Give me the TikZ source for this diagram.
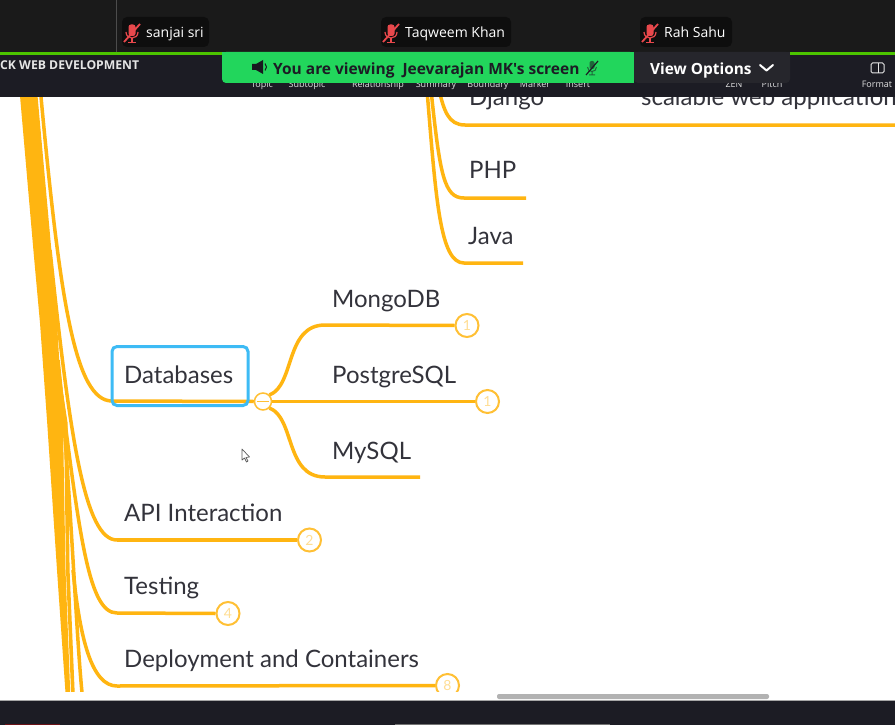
\documentclass[tikz,border=0pt]{standalone}
\usepackage{fontspec}
\setmainfont{Lato}
\newfontfamily\uifont{Open Sans}
\definecolor{branch}{HTML}{FFB511}
\definecolor{inktext}{HTML}{33333B}
\definecolor{topbar}{HTML}{1A1A1A}
\definecolor{headbar}{HTML}{1C1C24}
\definecolor{bannergreen}{HTML}{22D65C}
\definecolor{optbar}{HTML}{26262C}
\definecolor{linegreen}{HTML}{4CC400}
\definecolor{tagbg}{HTML}{0E0E0E}
\definecolor{mutered}{HTML}{E8484C}
\definecolor{selblue}{HTML}{3DBBF5}
\tikzset{
  x=1pt,y=-1pt,
  topiclabel/.style={anchor=base west,inner sep=0pt,text=inktext,font=\fontsize{24}{28}\selectfont},
  edge/.style={draw=branch,line width=3.5pt},
  badge/.style={circle,draw=branch!85!white,line width=2pt,fill=white,minimum size=23pt,inner sep=0pt,text=branch!45!white,font=\fontsize{14}{16}\selectfont},
  nametag/.style={rounded corners=5pt,fill=tagbg,inner sep=0pt,minimum height=30pt},
  nametext/.style={anchor=base west,inner sep=0pt,text=white,font=\uifont\fontsize{14}{16}\selectfont},
  toollabel/.style={anchor=base,inner sep=0pt,text=white!88!black,font=\uifont\fontsize{9}{10}\selectfont},
}
\newcommand{\mutedmic}[2]{%
  \begin{scope}[shift={(#1,#2)}]
    \fill[mutered,rounded corners=2.5pt] (-3.5,-8.5) rectangle (3.5,3);
    \draw[mutered,line width=1.2pt] (-6,-1) .. controls (-6,7) and (6,7) .. (6,-1);
    \draw[mutered,line width=1.4pt] (0,5) -- (0,9) (-4,9.5) -- (4,9.5);
    \draw[mutered,line width=1.8pt] (-8,9) -- (8,-9);
  \end{scope}}
\begin{document}
\begin{tikzpicture}
\useasboundingbox (0,0) rectangle (895,725);
\fill[white] (0,0) rectangle (895,725);

% canvas lines, clipped to the white canvas
\begin{scope}
\clip (0,97) rectangle (895,691);
\fill[branch] (19.5,90) -- (37,90) -- (52,257) -- (57,323) -- (63,423) -- (65.5,570) -- (70.5,700) -- (66,700) -- (57,570) -- (47,420) -- (40,323) -- (34,257) -- cycle;
\coordinate (topDb) at (41,97);
\coordinate (topApi) at (50,250);
\coordinate (topTest) at (56,350);
\coordinate (topDep) at (73,570);
\coordinate (topB) at (61.5,395);
\coordinate (midB) at (65.8,423);
\coordinate (lowB) at (67.8,570);
\coordinate (endB) at (73.2,700);
\coordinate (topC) at (58,360);
\coordinate (endC) at (82.8,700);
\coordinate (topDj) at (439,90);
\coordinate (topPhp) at (431,90);
\coordinate (topJava) at (427,90);
\coordinate (dbStart) at (112,401);
\coordinate (apiStart) at (117,540);
\coordinate (testStart) at (117,613);
\coordinate (depStart) at (117,686);
\coordinate (djStart) at (465,125);
\coordinate (phpStart) at (464,198);
\coordinate (javaStart) at (464,263);
\coordinate (djEnd) at (895,125);
\coordinate (phpEnd) at (526,198);
\coordinate (javaEnd) at (523,263);
\coordinate (mysqlEnd) at (420,477);
\draw[edge] (topDb) ++(0,-7) -- (topDb) .. controls (60,300) and (75,401) .. (dbStart);
\draw[edge] (topApi) .. controls (70,440) and (85,540) .. (apiStart);
\draw[edge] (topTest) .. controls (79,535) and (88,613) .. (testStart);
\draw[edge,line width=3.6pt] (topB) -- (midB) -- (lowB) -- (endB);
\draw[edge] (topC) .. controls (70,470) and (76,640) .. (endC);
\draw[edge] (topDep) .. controls (80,640) and (92,686) .. (depStart);
\draw[edge] (topDj) .. controls (444,110) and (448,125) .. (djStart) -- (djEnd);
\draw[edge] (topPhp) .. controls (440,175) and (444,198) .. (phpStart) -- (phpEnd);
\draw[edge] (topJava) .. controls (436,200) and (440,263) .. (javaStart) -- (javaEnd);
\end{scope}

% Databases branch
\coordinate (mongoStart) at (325,325);
\coordinate (mysqlStart) at (325,477);
\node[badge] (bMongo) at (467,325.5) {1};
\node[badge] (bPostgres) at (487.5,401.5) {1};
\node[circle,draw=branch!85!white,line width=1.5pt,fill=white,minimum size=17pt,inner sep=0pt] (collapse) at (263,401.5) {};
\draw[branch!85!white,line width=1.2pt] (collapse.center) ++(-6,0) -- ++(12,0);
\draw[edge] (dbStart) -- (collapse.west);
\draw[edge] (collapse.east) -- (bPostgres.west);
\draw[edge] (collapse.north east) .. controls (295,385) and (285,325) .. (mongoStart) -- (bMongo.west);
\draw[edge] (collapse.south east) .. controls (295,418) and (285,477) .. (mysqlStart) -- (mysqlEnd);
\node[draw=selblue,line width=3pt,rounded corners=5pt,minimum width=136pt,minimum height=59pt,inner sep=0pt] (dbBox) at (180,376) {};

\node[topiclabel] (db) at (124,383) {Databases};
\node[topiclabel] (mongo) at (332,307) {MongoDB};
\node[topiclabel] (postgres) at (332,383) {PostgreSQL};
\node[topiclabel] (mysql) at (332,459) {MySQL};
\node[topiclabel] (php) at (469,178) {PHP};
\node[topiclabel] (java) at (468,244) {Java};
\node[topiclabel] (django) at (469,106) {Django};
\node[topiclabel] (scalable) at (641,106) {scalable web application};
\node[topiclabel] (api) at (124,521) {API Interaction};
\node[topiclabel] (testing) at (124,594) {Testing};
\node[topiclabel] (deploy) at (124,667) {Deployment and Containers};

% lower badges
\node[badge] (bApi) at (309.5,540) {2};
\node[badge] (bTest) at (228,613.5) {4};
\draw[edge] (apiStart) -- (bApi.west);
\draw[edge] (testStart) -- (bTest.west);
\begin{scope}
\clip (0,600) rectangle (895,691);
\node[badge] (bDep) at (447.5,685.5) {8};
\draw[edge] (depStart) -- (bDep.west);
\end{scope}

% mouse pointer
\draw[black!65,fill=white,line width=.7pt,line join=round] (242,449) -- (242,460) -- (244.5,458) -- (246.5,462) -- (248,461) -- (246,457.5) -- (249.5,457) -- cycle;

% scrollbar
\fill[black!30,rounded corners=2pt] (497,694) rectangle (769,699);

% top bars
\fill[headbar] (0,52) rectangle (895,97);
\fill[topbar] (0,0) rectangle (895,52);
\draw[black!70,line width=.6pt] (116.5,0) -- (116.5,52);
\fill[linegreen] (0,52) rectangle (895,55);

\node[anchor=base west,inner sep=0pt,text=white!90!black,font=\uifont\bfseries\fontsize{12.2}{14}\selectfont] (course) at (0,70) {CK WEB DEVELOPMENT};

\node[toollabel] (t1) at (262,88) {Topic};
\node[toollabel] (t2) at (307,88) {Subtopic};
\node[toollabel] (t3) at (378,88) {Relationship};
\node[toollabel] (t4) at (436,88) {Summary};
\node[toollabel] (t5) at (488,88) {Boundary};
\node[toollabel] (t6) at (535,88) {Marker};
\node[toollabel] (t7) at (578,88) {Insert};
\node[toollabel] (t8) at (734,88) {ZEN};
\node[toollabel] (t9) at (772,88) {Pitch};
\node[toollabel] (t10) at (877,88) {Format};
\draw[white!90!black,line width=1pt,rounded corners=1.5pt] (871,63) rectangle (884,73);
\draw[white!90!black,line width=1pt] (878.5,63) -- (878.5,73);

% banner
\fill[bannergreen,rounded corners=4pt] (222,52) -- (222,83) -- (634,83) -- (634,52) -- cycle;
\fill[bannergreen] (222,52) rectangle (234,70);
\fill[optbar,rounded corners=4pt] (634,52) -- (634,83) -- (790,83) -- (790,52) -- cycle;
\fill[optbar] (634,52) rectangle (790,70);
\fill[bannergreen] (630,52) rectangle (634,83);

\fill[headbar!85!black] (252,64) -- (256,64) -- (263,60) -- (263,74) -- (256,70) -- (252,70) -- cycle;
\draw[headbar!85!black,line width=1pt] (265,63.5) .. controls (267,66) and (267,68) .. (265,70.5);
\node[anchor=base west,inner sep=0pt,text=headbar,font=\uifont\bfseries\fontsize{15.5}{18}\selectfont] (viewing) at (273,74.5) {You are viewing\ \ Jeevarajan MK's screen};
\begin{scope}[shift={(592,68)}]
  \fill[headbar!60!bannergreen,rounded corners=2pt] (-2.5,-7) rectangle (2.5,1);
  \draw[headbar!60!bannergreen,line width=1pt] (-4.5,-1) .. controls (-4.5,5) and (4.5,5) .. (4.5,-1) (0,4) -- (0,7) (-3,7) -- (3,7);
  \draw[headbar,line width=1.2pt] (-6,7) -- (6,-7);
\end{scope}
\node[anchor=base west,inner sep=0pt,text=white,font=\uifont\bfseries\fontsize{15.4}{18}\selectfont] (options) at (650,74.5) {View Options};
\draw[white,line width=2pt,line cap=round,line join=round] (760,65) -- (766.5,70.5) -- (773,65);

% name tags
\node[nametag,minimum width=87pt] (tag1) at (165.5,32) {};
\mutedmic{132}{33}
\node[nametext] (name1) at (146,37.5) {sanjai sri};
\node[nametag,minimum width=130pt] (tag2) at (446,32) {};
\mutedmic{391}{33}
\node[nametext] (name2) at (405,37.5) {Taqweem Khan};
\node[nametag,minimum width=92pt] (tag3) at (686,32) {};
\mutedmic{650}{33}
\node[nametext] (name3) at (664,37.5) {Rah Sahu};

% bottom bar
\fill[headbar] (0,701) rectangle (895,725);
\draw[black!35,line width=.7pt] (0,700.5) -- (895,700.5);
\fill[red!35!headbar] (5,724) rectangle (60,725);
\fill[black!55] (395,724) rectangle (610,725);
\end{tikzpicture}
\end{document}
